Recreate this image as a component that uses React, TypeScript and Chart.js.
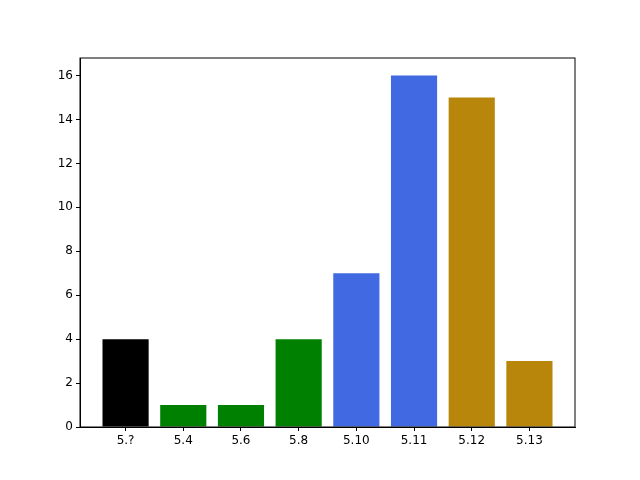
import { useEffect, useRef } from "react"
import { Chart, registerables } from "chart.js"

Chart.register(...registerables)

const categories = ["5.?", "5.4", "5.6", "5.8", "5.10", "5.11", "5.12", "5.13"]
const counts = [4, 1, 1, 4, 7, 16, 15, 3]
const colors = ["#000000", "#008000", "#008000", "#008000", "#4169e1", "#4169e1", "#b8860b", "#b8860b"]
const yTicks = [0, 2, 4, 6, 8, 10, 12, 14, 16]

const frame = {
  id: "frame",
  afterDraw(chart: Chart) {
    const { ctx, chartArea: a } = chart
    ctx.save()
    ctx.strokeStyle = "#000"
    ctx.lineWidth = 1
    ctx.strokeRect(a.left, a.top, a.right - a.left, a.bottom - a.top)
    ctx.restore()
  },
}

export default function App() {
  const ref = useRef<HTMLCanvasElement>(null)

  useEffect(() => {
    if (!ref.current) return
    document.body.style.margin = "0"
    const font = { family: "DejaVu Sans", size: 12 }
    const chart = new Chart(ref.current, {
      type: "bar",
      data: {
        datasets: [{
          data: counts.map((v, i) => ({ x: i, y: v })),
          backgroundColor: colors,
          borderWidth: 0,
          barPercentage: 0.8,
          categoryPercentage: 1,
        }],
      },
      options: {
        animation: false,
        responsive: false,
        layout: { padding: { top: 58, right: 65, left: 0, bottom: 0 } },
        plugins: { legend: { display: false }, tooltip: { enabled: false } },
        scales: {
          x: {
            type: "linear",
            offset: false,
            min: -0.79,
            max: 7.79,
            afterBuildTicks: (s: any) => { s.ticks = categories.map((_, i) => ({ value: i })) },
            afterFit: (s: any) => { s.height = 53 },
            ticks: { color: "#000", font, callback: (v: any) => categories[v] ?? "", maxRotation: 0 },
            grid: { offset: false, drawOnChartArea: false, tickLength: 4, color: "#000" },
            border: { color: "#000" },
          },
          y: {
            min: 0,
            max: 16.8,
            afterBuildTicks: (s: any) => { s.ticks = yTicks.map((v) => ({ value: v })) },
            afterFit: (s: any) => { s.width = 80 },
            ticks: { color: "#000", font },
            grid: { drawOnChartArea: false, tickLength: 4, color: "#000" },
            border: { color: "#000" },
          },
        },
      },
      plugins: [frame],
    })
    return () => chart.destroy()
  }, [])

  return <canvas ref={ref} width={640} height={480} />
}
